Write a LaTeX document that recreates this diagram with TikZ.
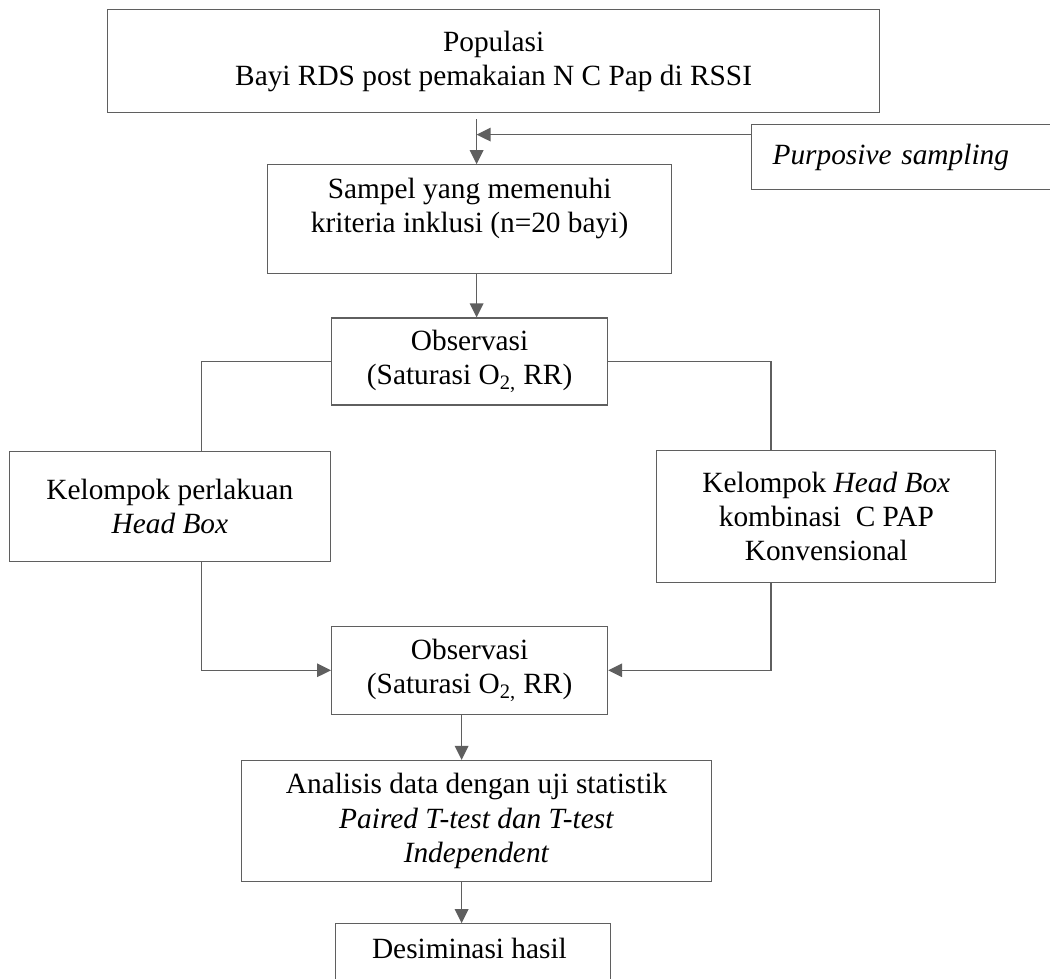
\documentclass[tikz,border=0pt]{standalone}
\usepackage{fontspec}
\setmainfont{Liberation Serif}
\usepackage{xcolor}
\usepackage{tikz}
\usetikzlibrary{positioning, arrows.meta}

\definecolor{linegray}{RGB}{95,95,95}

\begin{document}
\begin{tikzpicture}[
    box/.style={
        rectangle,
        draw=linegray,
        line width=0.7pt,
        inner sep=0pt,
        align=center,
        font=\fontsize{16.7}{19.4}\selectfont
    },
    link/.style={
        draw=linegray,
        line width=0.8pt
    },
    arrow/.style={
        link,
        -{Triangle[length=0.28cm, width=0.27cm]}
    }
]

\useasboundingbox (0,0) rectangle (21,-19.58);
\clip (0,0) rectangle (21,-19.58);

% Main flow

\node[box, anchor=north west, minimum width=15.44cm, minimum height=2.06cm] (populasi) at (2.14,-0.18) {
Populasi\\
Bayi RDS post pemakaian N C Pap di RSSI
};

\node[box, anchor=north west, text width=5.34cm, align=left, inner xsep=0.42cm, minimum height=1.3cm] (purposive) at (15.02,-2.48) {
\textit{Purposive sampling}
};

\node[box, below=1.02cm of populasi, xshift=-0.48cm, minimum width=8.08cm, minimum height=2.18cm, text depth=0.57cm] (sampel) {
Sampel yang memenuhi\\
kriteria inklusi (n=20 bayi)
};

\node[box, below=0.86cm of sampel, minimum width=5.52cm, minimum height=1.74cm] (observasiA) {
Observasi\\
(Saturasi O\textsubscript{2,} RR)
};


% Groups

\node[box, below left=0.9cm and 0cm of observasiA, minimum width=6.42cm, minimum height=2.2cm] (perlakuan) {
Kelompok perlakuan\\
\textit{Head Box}
};

\node[box, below right=0.88cm and 0.96cm of observasiA, minimum width=6.78cm, minimum height=2.64cm] (kombinasi) {
Kelompok \textit{Head Box}\\
kombinasi~ C PAP\\
Konvensional
};


% Merge

\node[box, below=4.4cm of observasiA, minimum width=5.52cm, minimum height=1.76cm] (observasiB) {
Observasi\\
(Saturasi O\textsubscript{2,} RR)
};

\node[box, below=0.9cm of observasiB, xshift=0.14cm, minimum width=9.4cm, minimum height=2.42cm] (analisis) {
Analisis data dengan uji statistik\\
\textit{Paired T-test dan T-test}\\
\textit{Independent}
};

\node[box, below=0.82cm of analisis, xshift=-0.07cm, minimum width=5.5cm, minimum height=2cm, text depth=1cm] (desiminasi) {
Desiminasi hasil
};


% Arrows

\coordinate (split) at ([xshift=-0.34cm, yshift=-0.12cm]populasi.south);
\coordinate (feed) at ([yshift=0.45cm]purposive.west);

\draw[arrow] (split)--(split |- sampel.north);
\draw[arrow] (feed)--(feed -| split);

\draw[arrow] ([xshift=0.14cm]sampel.south)--([xshift=0.14cm]observasiA.north);

\draw[link] (observasiA.west) -| ([xshift=0.63cm]perlakuan.north);
\draw[link] (observasiA.east) -| ([xshift=-1.11cm]kombinasi.north);

\draw[arrow] ([xshift=0.63cm]perlakuan.south) |- (observasiB.west);
\draw[arrow] ([xshift=-1.11cm]kombinasi.south) |- (observasiB.east);

\draw[arrow] ([xshift=-0.16cm]observasiB.south)--++(0,-0.9cm);
\draw[arrow] ([xshift=-0.3cm]analisis.south)--++(0,-0.82cm);

\end{tikzpicture}
\end{document}
